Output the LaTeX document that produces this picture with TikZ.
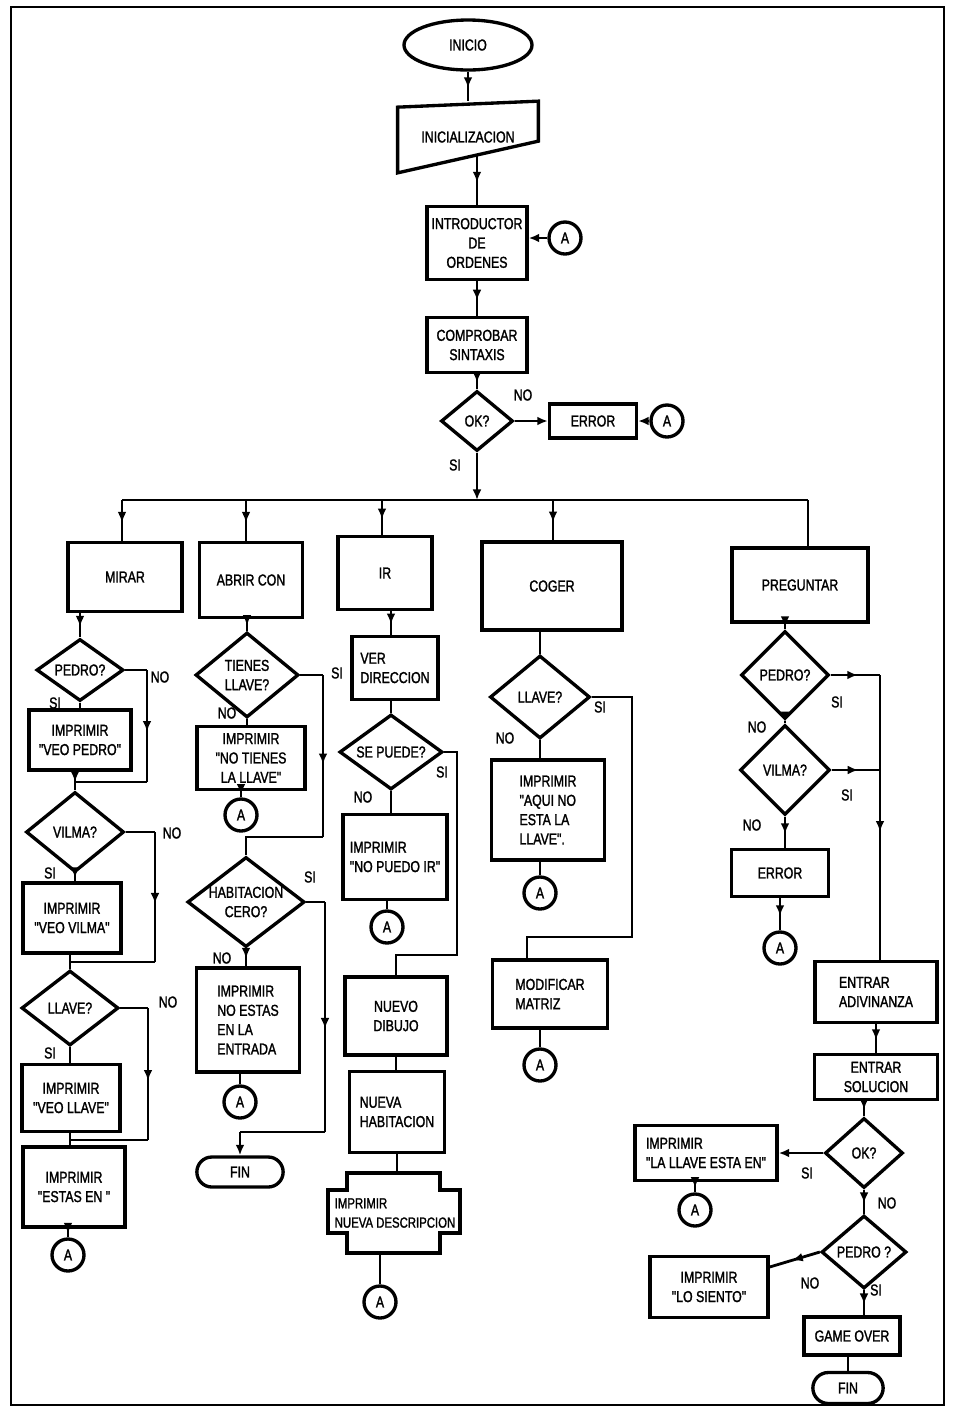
\documentclass[tikz,border=0pt]{standalone}
\usepackage{fontspec}
\newfontfamily\letra{Liberation Sans}[FakeStretch=0.78, FakeBold=1.5]
\newcommand{\comilla}{\symbol{34}}
\usetikzlibrary{shapes.geometric,shapes.misc,arrows.meta,decorations.markings}

\begin{document}
\begin{tikzpicture}[x=0.02cm,y=-0.02cm]

	\tikzset{texto/.style = {font=\letra\fontsize{9}{11}\selectfont}}
	\tikzset{tam/.style 2 args = {minimum width=#1*0.02cm, minimum height=#2*0.02cm}}
	\tikzset{caja/.style = {texto, draw, rectangle, line width=1.9pt, align=center, inner sep=1pt}}
	\tikzset{rombo/.style = {texto, draw, diamond, aspect=1.4, line width=1.9pt, align=center, inner sep=0pt}}
	\tikzset{conector/.style = {texto, draw, circle, line width=1.9pt, minimum size=0.64cm, inner sep=0pt}}
	\tikzset{final/.style = {texto, draw, rounded rectangle, line width=1.9pt}}
	\tikzset{etiqueta/.style = {texto}}
	\tikzset{linea/.style = {line width=1.6pt}}
	\tikzset{punta/.style = {linea, -{Latex[length=6pt,width=5pt]}}}
	\tikzset{flecha/.style = {linea, postaction={decorate}, decoration={markings, mark=at position 0.55 with {\arrow{Latex[length=6pt,width=5pt]}}}}}

	\useasboundingbox (0,0) rectangle (954,1411);
	\fill[white] (0,0) rectangle (954,1411);
	\draw[line width=1pt] (11,7) rectangle (944,1405);

	\node[final, ellipse, tam={128}{50}] (inicio) at (468,45) {INICIO};
	\node[texto, tam={140}{71}] (inicial) at (468,137) {INICIALIZACION};
	\draw[line width=1.9pt] ([yshift=-0.12cm]inicial.north west) -- (inicial.north east) -- ([yshift=-0.8cm]inicial.north east) -- (inicial.south west) -- cycle;
	\coordinate (inicialbase) at (477,155);
	\node[caja, tam={100}{73}] (introductor) at (477,243) {INTRODUCTOR\\DE\\ORDENES};
	\node[conector] (a1) at (565,238) {A};
	\node[caja, tam={100}{55}] (comprobar) at (477,345) {COMPROBAR\\SINTAXIS};
	\node[rombo, tam={72}{60}] (ok1) at (477,421) {OK?};
	\node[caja, tam={87}{34}] (error1) at (593,421) {ERROR};
	\node[conector] (a2) at (667,421) {A};

	\coordinate (b1) at (122,500);
	\coordinate (b2) at (246,500);
	\coordinate (b3) at (382,500);
	\coordinate (b4) at (553,500);
	\coordinate (b5) at (808,500);

	\node[caja, tam={114}{69}] (mirar) at (125,577) {MIRAR};
	\node[rombo, tam={87}{62}] (pedro1) at (80,670) {PEDRO?};
	\node[caja, tam={102}{60}] (veopedro) at (80,740) {IMPRIMIR\\\comilla VEO PEDRO\comilla};
	\node[rombo, tam={98}{80}] (vilma1) at (75,832) {VILMA?};
	\node[caja, tam={98}{70}] (veovilma) at (72,918) {IMPRIMIR\\\comilla VEO VILMA\comilla};
	\node[rombo, tam={97}{75}] (llave1) at (70,1008) {LLAVE?};
	\node[caja, tam={98}{67}] (veollave) at (71,1098) {IMPRIMIR\\\comilla VEO LLAVE\comilla};
	\node[caja, tam={102}{80}] (estasen) at (74,1187) {IMPRIMIR\\\comilla ESTAS EN \comilla};
	\node[conector] (a3) at (68,1255) {A};
	\coordinate (p1a) at (147,670);
	\coordinate (p1b) at (147,782);
	\coordinate (v1a) at (155,832);
	\coordinate (v1b) at (155,962);
	\coordinate (l1a) at (148,1008);
	\coordinate (l1b) at (148,1140);

	\node[caja, tam={103}{75}] (abrir) at (251,580) {ABRIR CON};
	\node[rombo, tam={103}{85}] (tienes) at (247,675) {TIENES\\LLAVE?};
	\node[caja, tam={108}{63}] (notienes) at (251,758) {IMPRIMIR\\\comilla NO TIENES\\LA LLAVE\comilla};
	\node[conector] (a4) at (241,815) {A};
	\node[rombo, tam={115}{90}] (habitacion) at (246,902) {HABITACION\\CERO?};
	\node[caja, tam={103}{104}, align=left] (noestas) at (248,1020) {IMPRIMIR\\NO ESTAS\\EN LA\\ENTRADA};
	\node[conector] (a5) at (240,1102) {A};
	\node[final, tam={98}{30}] (fin1) at (240,1172) {FIN};
	\coordinate (t2a) at (323,675);
	\coordinate (t2b) at (323,837);
	\coordinate (h2a) at (325,902);
	\coordinate (h2b) at (325,1132);

	\node[caja, tam={94}{73}] (ir) at (385,573) {IR};
	\node[caja, tam={86}{63}, align=left] (verdir) at (395,668) {VER\\DIRECCION};
	\node[rombo, tam={103}{75}] (sepuede) at (391,752) {SE PUEDE?};
	\node[caja, tam={104}{85}, align=left] (nopuedo) at (395,857) {IMPRIMIR\\\comilla NO PUEDO IR\comilla};
	\node[conector] (a6) at (387,927) {A};
	\node[caja, tam={102}{78}] (nuevodibujo) at (396,1016) {NUEVO\\DIBUJO};
	\node[caja, tam={95}{81}, align=left] (nuevahab) at (397,1112) {NUEVA\\HABITACION};
	\node[texto, tam={93}{80}, align=left, font=\letra\fontsize{8.3}{11}\selectfont] (descripcion) at (395,1213) {IMPRIMIR\\NUEVA DESCRIPCION};
	\draw[line width=1.9pt] (347,1173) -- (440,1173) -- (440,1190) -- (460,1190) -- (460,1233) -- (440,1233) -- (440,1253) -- (347,1253) -- (347,1233) -- (328,1233) -- (328,1190) -- (347,1190) -- cycle;
	\node[conector] (a7) at (380,1302) {A};
	\coordinate (s3a) at (457,752);
	\coordinate (s3b) at (457,955);

	\node[caja, tam={140}{88}] (coger) at (552,586) {COGER};
	\node[rombo, tam={100}{83}] (llave2) at (540,697) {LLAVE?};
	\node[caja, tam={113}{100}, align=left] (aquino) at (548,810) {IMPRIMIR\\\comilla AQUI NO\\ESTA LA\\LLAVE\comilla.};
	\node[conector] (a8) at (540,893) {A};
	\node[caja, tam={115}{68}, align=left] (modificar) at (550,994) {MODIFICAR\\MATRIZ};
	\node[conector] (a9) at (540,1065) {A};
	\coordinate (c4a) at (632,697);
	\coordinate (c4b) at (632,937);
	\coordinate (c4c) at (527,937);

	\node[caja, tam={136}{74}] (preguntar) at (800,585) {PREGUNTAR};
	\node[rombo, tam={88}{88}] (pedro2) at (785,675) {PEDRO?};
	\node[rombo, tam={90}{90}] (vilma2) at (785,770) {VILMA?};
	\node[caja, tam={97}{47}] (error2) at (780,873) {ERROR};
	\node[conector] (a10) at (780,948) {A};
	\coordinate (r5a) at (880,675);
	\coordinate (r5b) at (880,770);
	\node[caja, tam={122}{61}, align=left] (adivinanza) at (876,992) {ENTRAR\\ADIVINANZA};
	\node[caja, tam={123}{45}] (solucion) at (876,1077) {ENTRAR\\SOLUCION};
	\node[rombo, tam={78}{70}] (ok2) at (864,1153) {OK?};
	\node[caja, tam={142}{55}, align=left] (llaveesta) at (706,1153) {IMPRIMIR\\\comilla LA LLAVE ESTA EN\comilla};
	\node[conector] (a11) at (695,1210) {A};
	\node[rombo, tam={85}{73}] (pedro3) at (864,1252) {PEDRO ?};
	\node[caja, tam={118}{61}] (losiento) at (709,1287) {IMPRIMIR\\\comilla LO SIENTO\comilla};
	\node[caja, tam={96}{38}] (gameover) at (852,1336) {GAME OVER};
	\node[final, tam={82}{31}] (fin2) at (848,1388) {FIN};

	\node[etiqueta] (e1) at (523,395) {NO};
	\node[etiqueta] (e2) at (455,465) {SI};
	\node[etiqueta] (e3) at (160,677) {NO};
	\node[etiqueta] (e4) at (55,703) {SI};
	\node[etiqueta] (e5) at (172,833) {NO};
	\node[etiqueta] (e6) at (50,873) {SI};
	\node[etiqueta] (e7) at (168,1002) {NO};
	\node[etiqueta] (e8) at (50,1053) {SI};
	\node[etiqueta] (e9) at (227,713) {NO};
	\node[etiqueta] (e10) at (337,673) {SI};
	\node[etiqueta] (e11) at (310,877) {SI};
	\node[etiqueta] (e12) at (222,958) {NO};
	\node[etiqueta] (e13) at (442,772) {SI};
	\node[etiqueta] (e14) at (363,797) {NO};
	\node[etiqueta] (e15) at (600,707) {SI};
	\node[etiqueta] (e16) at (505,738) {NO};
	\node[etiqueta] (e17) at (837,702) {SI};
	\node[etiqueta] (e18) at (757,727) {NO};
	\node[etiqueta] (e19) at (847,795) {SI};
	\node[etiqueta] (e20) at (752,825) {NO};
	\node[etiqueta] (e21) at (807,1173) {SI};
	\node[etiqueta] (e22) at (887,1203) {NO};
	\node[etiqueta] (e23) at (810,1283) {NO};
	\node[etiqueta] (e24) at (876,1290) {SI};

	\draw[flecha] (inicio.south) -- (inicio.south |- inicial.north);
	\draw[flecha] (inicialbase) -- (inicialbase |- introductor.north);
	\draw[flecha] (introductor) -- (comprobar);
	\draw[flecha] (comprobar) -- (ok1);
	\draw[punta] (a1) -- (a1 -| introductor.east);
	\draw[punta] (ok1.east) -- (error1.west);
	\draw[punta] (a2) -- (error1);
	\draw[punta] (ok1.south) -- (ok1.south |- b1);

	\draw[linea] (b1) -- (b5);
	\draw[flecha] (b1) -- (b1 |- mirar.north);
	\draw[flecha] (b2) -- (b2 |- abrir.north);
	\draw[flecha] (b3) -- (b3 |- ir.north);
	\draw[flecha] (b4) -- (b4 |- coger.north);
	\draw[linea] (b5) -- (b5 |- preguntar.north);

	\draw[flecha] (pedro1.north |- mirar.south) -- (pedro1.north);
	\draw[linea] (pedro1.south) -- (pedro1.south |- veopedro.north);
	\draw[linea] (pedro1.east) -- (p1a);
	\draw[flecha] (p1a) -- (p1b);
	\draw[linea] (p1b) -- (vilma1.north |- p1b);
	\draw[flecha] (vilma1.north |- veopedro.south) -- (vilma1.north);
	\draw[flecha] (vilma1.south) -- (vilma1.south |- veovilma.north);
	\draw[linea] (vilma1.east) -- (v1a);
	\draw[flecha] (v1a) -- (v1b);
	\draw[linea] (v1b) -- (llave1.north |- v1b);
	\draw[linea] (llave1.north |- veovilma.south) -- (llave1.north);
	\draw[linea] (llave1.south) -- (llave1.south |- veollave.north);
	\draw[linea] (llave1.east) -- (l1a);
	\draw[flecha] (l1a) -- (l1b);
	\draw[linea] (l1b) -- (llave1.south |- l1b);
	\draw[linea] (llave1.south |- veollave.south) -- (llave1.south |- estasen.north);
	\draw[flecha] (a3.north |- estasen.south) -- (a3.north);

	\draw[flecha] (tienes.north |- abrir.south) -- (tienes.north);
	\draw[linea] (tienes.south) -- (tienes.south |- notienes.north);
	\draw[flecha] (a4.north |- notienes.south) -- (a4.north);
	\draw[linea] (tienes.east) -- (t2a);
	\draw[flecha] (t2a) -- (t2b);
	\draw[linea] (t2b) -- (habitacion.north |- t2b) -- (habitacion.north);
	\draw[flecha] (habitacion.south) -- (habitacion.south |- noestas.north);
	\draw[linea] (a5.north |- noestas.south) -- (a5.north);
	\draw[linea] (habitacion.east) -- (h2a);
	\draw[flecha] (h2a) -- (h2b);
	\draw[linea] (h2b) -- (fin1.north |- h2b);
	\draw[punta] (fin1.north |- h2b) -- (fin1.north);

	\draw[flecha] (sepuede.north |- ir.south) -- (sepuede.north |- verdir.north);
	\draw[linea] (sepuede.north |- verdir.south) -- (sepuede.north);
	\draw[linea] (sepuede.south) -- (sepuede.south |- nopuedo.north);
	\draw[linea] (a6.north |- nopuedo.south) -- (a6.north);
	\draw[linea] (sepuede.east) -- (s3a) -- (s3b) -- (nuevodibujo.north |- s3b) -- (nuevodibujo.north);
	\draw[linea] (nuevodibujo.south) -- (nuevodibujo.south |- nuevahab.north);
	\draw[linea] (nuevahab.south) -- (nuevahab.south |- descripcion.north);
	\draw[linea] (a7.north |- descripcion.south) -- (a7.north);

	\draw[linea] (llave2.north |- coger.south) -- (llave2.north);
	\draw[linea] (llave2.south) -- (llave2.south |- aquino.north);
	\draw[linea] (a8.north |- aquino.south) -- (a8.north);
	\draw[linea] (llave2.east) -- (c4a) -- (c4b) -- (c4c) -- (c4c |- modificar.north);
	\draw[linea] (a9.north |- modificar.south) -- (a9.north);

	\draw[flecha] (pedro2.north |- preguntar.south) -- (pedro2.north);
	\draw[flecha] (pedro2.south) -- (vilma2.north);
	\draw[flecha] (pedro2.east) -- (r5a);
	\draw[flecha] (vilma2.east) -- (r5b);
	\draw[flecha] (r5a) -- (r5a |- adivinanza.north);
	\draw[flecha] (vilma2.south) -- (vilma2.south |- error2.north);
	\draw[flecha] (error2) -- (a10);
	\draw[flecha] (adivinanza) -- (solucion);
	\draw[flecha] (ok2.north |- solucion.south) -- (ok2.north);
	\draw[punta] (ok2.west) -- (ok2.west -| llaveesta.east);
	\draw[flecha] (a11.north |- llaveesta.south) -- (a11.north);
	\draw[flecha] (ok2.south) -- (pedro3.north);
	\draw[flecha] (pedro3.west) -- ([yshift=0.4cm]losiento.east);
	\draw[flecha] (pedro3.south) -- (pedro3.south |- gameover.north);
	\draw[linea] (fin2.north |- gameover.south) -- (fin2.north);

\end{tikzpicture}
\end{document}
